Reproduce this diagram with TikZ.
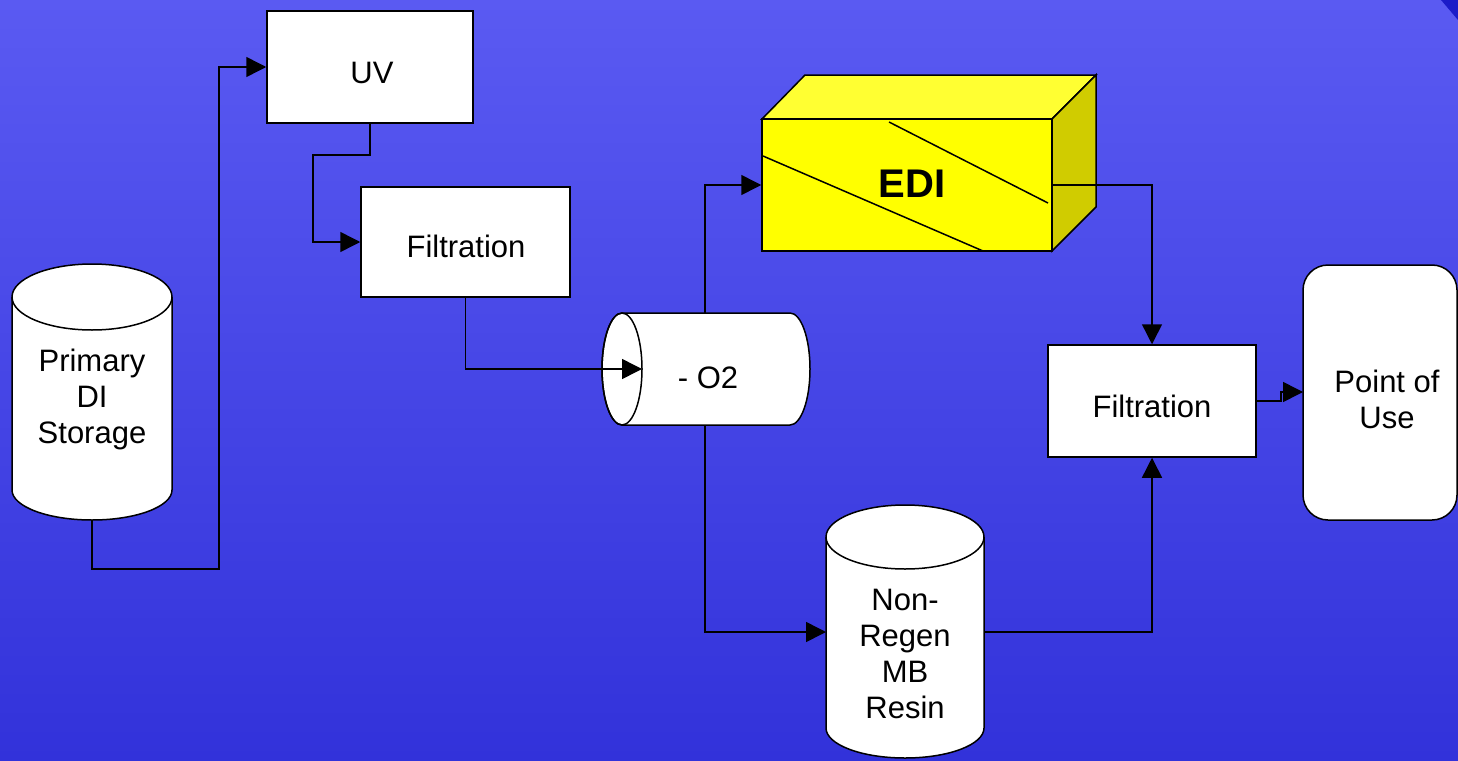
\documentclass[tikz,border=0pt]{standalone}
\usepackage{fontspec}
\setmainfont{Liberation Sans}
\usetikzlibrary{arrows.meta}
\definecolor{bgtop}{RGB}{90,90,242}
\definecolor{bgbot}{RGB}{50,50,218}
\definecolor{cornerblue}{RGB}{28,28,200}
\definecolor{ediface}{RGB}{255,255,0}
\definecolor{editop}{RGB}{255,255,50}
\definecolor{edside}{RGB}{208,204,0}
\tikzset{
  box/.style={draw=black, fill=white, line width=1.5pt, inner sep=0pt, align=center},
  lbl/.style={inner sep=0pt, align=center, font=\fontsize{31}{36}\selectfont},
  shp/.style={draw=black, fill=white, line width=1.5pt},
  conn/.style={line width=1.5pt, draw=black, -{Triangle[length=20pt,width=20pt]}},
  plain/.style={line width=1.5pt, draw=black}
}
\begin{document}
\begin{tikzpicture}[x=1pt,y=-1pt]
\useasboundingbox (0,0) rectangle (1458,760);
\fill[top color=bgtop, bottom color=bgbot] (0,0) rectangle (1458,760);
\fill[cornerblue] (1441,0) -- (1458,0) -- (1458,20) -- cycle;

% Primary DI Storage cylinder
\path[shp] (12,297) -- (12,490) arc[start angle=180,end angle=360,x radius=80pt,y radius=30pt]
  -- (172,297) arc[start angle=0,end angle=180,x radius=80pt,y radius=33pt] -- cycle;
\draw[plain] (12,297) arc[start angle=180,end angle=360,x radius=80pt,y radius=33pt];
\node[lbl] (prim) at (92,399) {Primary\\DI\\Storage};
\coordinate (primbot) at (92,520);

% UV
\node[box, minimum width=206pt, minimum height=112pt] (uv) at (370,67) {};
\node[lbl] (uvlbl) at (372,73) {UV};
% Filtration 1
\node[box, minimum width=209pt, minimum height=110pt] (filt1) at (465.5,242) {};
\node[lbl] (filt1lbl) at (466,246) {Filtration};

% -O2 horizontal cylinder
\path[shp] (622,313) -- (790,313) arc[start angle=90,end angle=-90,x radius=20pt,y radius=56pt]
  -- (622,425) arc[start angle=270,end angle=90,x radius=20pt,y radius=56pt] -- cycle;
\draw[plain] (622,369) ellipse [x radius=20pt,y radius=56pt];
\node[lbl] (o2) at (708,378) {- O2};
\coordinate (o2in) at (642,369);
\coordinate (o2top) at (705,313);
\coordinate (o2bot) at (705,425);

% Non-Regen MB Resin cylinder
\path[shp] (826,537) -- (826,728) arc[start angle=180,end angle=360,x radius=79pt,y radius=30pt]
  -- (984,537) arc[start angle=0,end angle=180,x radius=79pt,y radius=32pt] -- cycle;
\draw[plain] (826,537) arc[start angle=180,end angle=360,x radius=79pt,y radius=32pt];
\node[lbl] (nr) at (905,654) {Non-\\Regen\\MB\\Resin};
\coordinate (nrin) at (826,632);
\coordinate (nrout) at (984,632);

% EDI block
\path[draw=black, line width=1.5pt, fill=editop] (762,119) -- (805,75) -- (1096,75) -- (1052,119) -- cycle;
\path[draw=black, line width=1.5pt, fill=edside] (1052,119) -- (1096,75) -- (1096,207) -- (1052,251) -- cycle;
\node[draw=black, fill=ediface, line width=1.5pt, minimum width=290pt, minimum height=132pt, inner sep=0pt]
  (edi) at (907,185) {};
\draw[plain] (763,156) -- (983,251);
\draw[plain] (889,122) -- (1048,203);
\node[inner sep=0pt, font=\fontsize{40}{48}\selectfont\bfseries] (edilbl) at (912,184) {EDI};
\coordinate (ediout) at (1052,185);

% Filtration 2
\node[box, minimum width=208pt, minimum height=112pt] (filt2) at (1152,401) {};
\node[lbl] (filt2lbl) at (1152,406) {Filtration};

% Point of Use
\node[draw=black, fill=white, line width=1.5pt, rounded corners=25pt, minimum width=154pt,
  minimum height=255pt, inner sep=0pt] (pou) at (1380,392.5) {};
\node[lbl] (poulbl) at (1387,399) {Point of\\Use};
\coordinate (pouin) at (1303,392);

% connectors
\draw[conn] (primbot) -- (92,569) -- (219,569) -- (219,67) -- (uv.west);
\draw[conn] (uv.south) -- (370,155) -- (313,155) -- (313,242) -- (filt1.west);
\draw[conn] (filt1.south) -- (465.5,369) -- (o2in);
\draw[conn] (o2top) -- (705,185) -- (edi.west);
\draw[conn] (o2bot) -- (705,632) -- (nrin);
\draw[conn] (nrout) -- (1152,632) -- (filt2.south);
\draw[conn] (ediout) -- (1152,185) -- (filt2.north);
\draw[conn] (filt2.east) -- (1281,401) -- (1281,392) -- (pouin);
\end{tikzpicture}
\end{document}
